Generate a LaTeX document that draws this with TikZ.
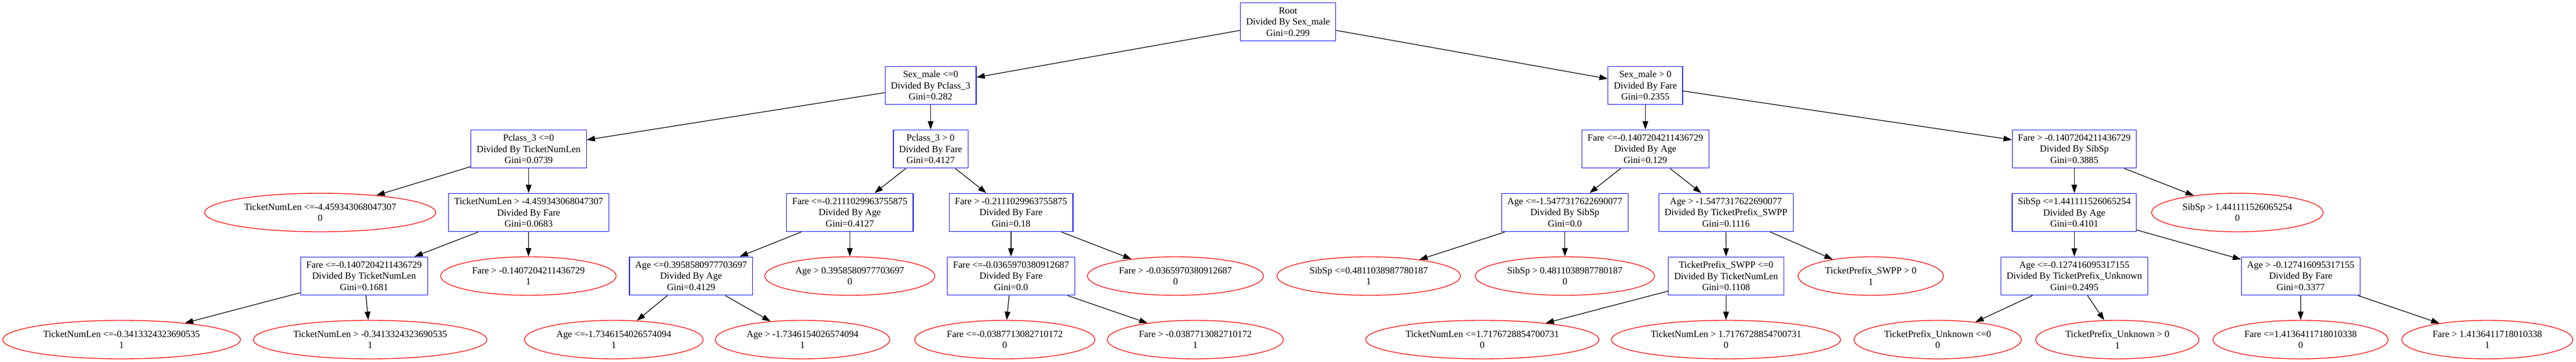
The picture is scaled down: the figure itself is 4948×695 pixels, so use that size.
\documentclass[tikz,border=0pt]{standalone}
\usepackage{fontspec}
\setmainfont{Liberation Serif}
\usetikzlibrary{arrows.meta,shapes.geometric}

\begin{document}
\begin{tikzpicture}[x=1pt,y=-1pt]
            \tikzstyle{every node}+=[font=\fontsize{18.2}{21.3}\selectfont, align=center, line width=1.3pt]
            \tikzstyle{split}=[rectangle, draw=blue, inner xsep=11pt, inner ysep=2pt, minimum height=73.5pt]
            \tikzstyle{leaf}=[ellipse, draw=red, inner xsep=11pt, inner ysep=2pt, minimum height=74pt]
            \tikzstyle{edge}=[black, line width=1.3pt, -{Triangle[length=16pt,width=11pt]}]
            \useasboundingbox (0,0) rectangle (4948,695);
            \node [split] (root) at (2474,42) {Root\\Divided By Sex\_male\\Gini=0.299};
            \node [split] (s1) at (1787.5,164) {Sex\_male <=0\\Divided By Pclass\_3\\Gini=0.282};
            \node [split] (s2) at (3160.4,164) {Sex\_male > 0\\Divided By Fare\\Gini=0.2355};
            \node [split] (p1) at (1015.4,286) {Pclass\_3 <=0\\Divided By TicketNumLen\\Gini=0.0739};
            \node [split] (p2) at (1787.5,286) {Pclass\_3 > 0\\Divided By Fare\\Gini=0.4127};
            \node [split] (f5) at (3160.4,286) {Fare <=-0.1407204211436729\\Divided By Age\\Gini=0.129};
            \node [split] (f6) at (3984.3,286) {Fare > -0.1407204211436729\\Divided By SibSp\\Gini=0.3885};
            \node [leaf] (l1) at (615,408) {TicketNumLen <=-4.459343068047307\\0};
            \node [split] (t1) at (1015.4,408) {TicketNumLen > -4.459343068047307\\Divided By Fare\\Gini=0.0683};
            \node [split] (f2) at (1632.3,408) {Fare <=-0.2111029963755875\\Divided By Age\\Gini=0.4127};
            \node [split] (f3) at (1942,408) {Fare > -0.2111029963755875\\Divided By Fare\\Gini=0.18};
            \node [split] (a2) at (3005.8,408) {Age <=-1.5477317622690077\\Divided By SibSp\\Gini=0.0};
            \node [split] (a3) at (3315.2,408) {Age > -1.5477317622690077\\Divided By TicketPrefix\_SWPP\\Gini=0.1116};
            \node [split] (sb1) at (3984.3,408) {SibSp <=1.441111526065254\\Divided By Age\\Gini=0.4101};
            \node [leaf] (l2) at (4297.5,408) {SibSp > 1.441111526065254\\0};
            \node [split] (f1) at (699.3,530) {Fare <=-0.1407204211436729\\Divided By TicketNumLen\\Gini=0.1681};
            \node [leaf] (l3) at (1015,530) {Fare > -0.1407204211436729\\1};
            \node [split] (a1) at (1327.4,530) {Age <=0.3958580977703697\\Divided By Age\\Gini=0.4129};
            \node [leaf] (l4) at (1632.3,530) {Age > 0.3958580977703697\\0};
            \node [split] (f4) at (1942,530) {Fare <=-0.0365970380912687\\Divided By Fare\\Gini=0.0};
            \node [leaf] (l5) at (2257.8,530) {Fare > -0.0365970380912687\\0};
            \node [leaf] (l6) at (2629,530) {SibSp <=0.4811038987780187\\1};
            \node [leaf] (l7) at (3005.8,530) {SibSp > 0.4811038987780187\\0};
            \node [split] (tp1) at (3315.5,530) {TicketPrefix\_SWPP <=0\\Divided By TicketNumLen\\Gini=0.1108};
            \node [leaf] (l8) at (3593.4,530) {TicketPrefix\_SWPP > 0\\1};
            \node [split] (a4) at (3984.3,530) {Age <=-0.127416095317155\\Divided By TicketPrefix\_Unknown\\Gini=0.2495};
            \node [split] (a5) at (4419.2,530) {Age > -0.127416095317155\\Divided By Fare\\Gini=0.3377};
            \node [leaf] (l9) at (233.5,652) {TicketNumLen <=-0.3413324323690535\\1};
            \node [leaf] (l10) at (711,652) {TicketNumLen > -0.3413324323690535\\1};
            \node [leaf] (l11) at (1179,652) {Age <=-1.7346154026574094\\1};
            \node [leaf] (l12) at (1541.5,652) {Age > -1.7346154026574094\\1};
            \node [leaf] (l13) at (1930,652) {Fare <=-0.0387713082710172\\0};
            \node [leaf] (l14) at (2296,652) {Fare > -0.0387713082710172\\1};
            \node [leaf] (l15) at (2847.2,652) {TicketNumLen <=1.7176728854700731\\0};
            \node [leaf] (l16) at (3315.3,652) {TicketNumLen > 1.7176728854700731\\0};
            \node [leaf] (l17) at (3721.8,652) {TicketPrefix\_Unknown <=0\\0};
            \node [leaf] (l18) at (4067,652) {TicketPrefix\_Unknown > 0\\1};
            \node [leaf] (l19) at (4419,652) {Fare <=1.4136411718010338\\0};
            \node [leaf] (l20) at (4777.6,652) {Fare > 1.4136411718010338\\1};
            \draw [edge] (root) -- (s1);
            \draw [edge] (root) -- (s2);
            \draw [edge] (s1) -- (p1);
            \draw [edge] (s1) -- (p2);
            \draw [edge] (s2) -- (f5);
            \draw [edge] (s2) -- (f6);
            \draw [edge] (p1) -- (l1);
            \draw [edge] (p1) -- (t1);
            \draw [edge] (p2) -- (f2);
            \draw [edge] (p2) -- (f3);
            \draw [edge] (f5) -- (a2);
            \draw [edge] (f5) -- (a3);
            \draw [edge] (f6) -- (sb1);
            \draw [edge] (f6) -- (l2);
            \draw [edge] (t1) -- (f1);
            \draw [edge] (t1) -- (l3);
            \draw [edge] (f2) -- (a1);
            \draw [edge] (f2) -- (l4);
            \draw [edge] (f3) -- (f4);
            \draw [edge] (f3) -- (l5);
            \draw [edge] (a2) -- (l6);
            \draw [edge] (a2) -- (l7);
            \draw [edge] (a3) -- (tp1);
            \draw [edge] (a3) -- (l8);
            \draw [edge] (sb1) -- (a4);
            \draw [edge] (sb1) -- (a5);
            \draw [edge] (f1) -- (l9);
            \draw [edge] (f1) -- (l10);
            \draw [edge] (a1) -- (l11);
            \draw [edge] (a1) -- (l12);
            \draw [edge] (f4) -- (l13);
            \draw [edge] (f4) -- (l14);
            \draw [edge] (tp1) -- (l15);
            \draw [edge] (tp1) -- (l16);
            \draw [edge] (a4) -- (l17);
            \draw [edge] (a4) -- (l18);
            \draw [edge] (a5) -- (l19);
            \draw [edge] (a5) -- (l20);
        \end{tikzpicture}
\end{document}
